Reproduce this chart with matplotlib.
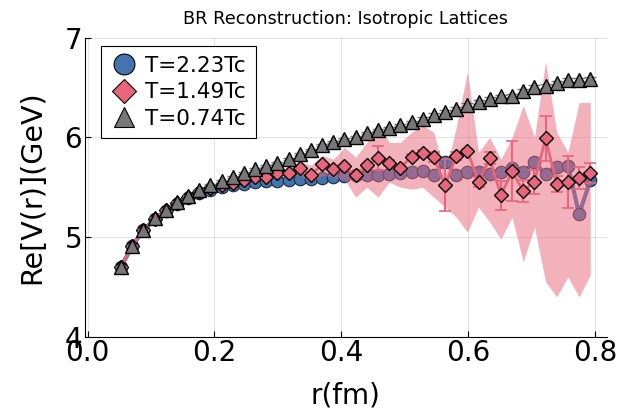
import matplotlib.pyplot as plt
import numpy as np
from matplotlib.lines import Line2D

# r values (fm), lattice points n = 3..45
r = [0.0528, 0.0704, 0.0880, 0.1056, 0.1232, 0.1408, 0.1584, 0.1760, 0.1936, 0.2112,
     0.2288, 0.2464, 0.2640, 0.2816, 0.2992, 0.3168, 0.3344, 0.3520, 0.3696, 0.3872,
     0.4048, 0.4224, 0.4400, 0.4576, 0.4752, 0.4928, 0.5104, 0.5280, 0.5456, 0.5632,
     0.5808, 0.5984, 0.6160, 0.6336, 0.6512, 0.6688, 0.6864, 0.7040, 0.7216, 0.7392,
     0.7568, 0.7744, 0.7920]

# T = 2.23 Tc
v_hot = [4.70, 4.91, 5.07, 5.18, 5.26, 5.33, 5.39, 5.44, 5.47, 5.50,
         5.52, 5.53, 5.55, 5.56, 5.56, 5.57, 5.58, 5.58, 5.59, 5.60,
         5.61, 5.62, 5.62, 5.62, 5.63, 5.64, 5.65, 5.665, 5.62, 5.755,
         5.62, 5.655, 5.655, 5.63, 5.65, 5.695, 5.65, 5.75, 5.63, 5.705,
         5.715, 5.23, 5.57]

# T = 1.49 Tc
v_mid = [4.70, 4.91, 5.07, 5.18, 5.27, 5.34, 5.40, 5.45, 5.49, 5.52,
         5.54, 5.57, 5.60, 5.605, 5.645, 5.64, 5.69, 5.62, 5.73, 5.68,
         5.71, 5.62, 5.72, 5.79, 5.745, 5.695, 5.805, 5.84, 5.80, 5.52,
         5.81, 5.865, 5.555, 5.79, 5.42, 5.66, 5.46, 5.555, 5.99, 5.53,
         5.555, 5.59, 5.64]
err_mid = [0.01, 0.01, 0.01, 0.01, 0.01, 0.01, 0.01, 0.01, 0.01, 0.01,
           0.01, 0.01, 0.01, 0.01, 0.01, 0.01, 0.01, 0.01, 0.01, 0.01,
           0.01, 0.01, 0.01, 0.12, 0.03, 0.02, 0.03, 0.03, 0.05, 0.26,
           0.04, 0.02, 0.05, 0.06, 0.145, 0.30, 0.11, 0.12, 0.225, 0.08,
           0.26, 0.11, 0.10]
band_lo = [4.69, 4.90, 5.06, 5.17, 5.26, 5.33, 5.39, 5.44, 5.48, 5.51,
           5.53, 5.56, 5.58, 5.58, 5.61, 5.60, 5.62, 5.55, 5.62, 5.60,
           5.58, 5.40, 5.50, 5.40, 5.55, 5.50, 5.48, 5.50, 5.40, 5.30,
           5.20, 5.05, 5.30, 5.15, 4.98, 5.20, 4.75, 5.10, 4.55, 4.40,
           4.60, 4.40, 4.62]
band_hi = [4.71, 4.92, 5.08, 5.19, 5.28, 5.35, 5.41, 5.46, 5.50, 5.53,
           5.55, 5.58, 5.62, 5.63, 5.68, 5.68, 5.76, 5.72, 5.82, 5.78,
           5.90, 5.80, 5.95, 6.16, 5.95, 5.95, 6.05, 6.12, 6.05, 5.62,
           6.10, 6.66, 5.85, 6.00, 5.78, 6.00, 6.32, 6.00, 6.76, 6.05,
           5.85, 6.35, 6.35]

# T = 0.74 Tc
v_cold = [4.70, 4.91, 5.07, 5.19, 5.27, 5.35, 5.41, 5.47, 5.52, 5.56,
          5.60, 5.64, 5.68, 5.71, 5.74, 5.78, 5.83, 5.87, 5.92, 5.95,
          5.98, 6.00, 6.04, 6.07, 6.09, 6.12, 6.15, 6.18, 6.22, 6.25,
          6.28, 6.32, 6.35, 6.38, 6.41, 6.42, 6.47, 6.51, 6.52, 6.55,
          6.58, 6.58, 6.585]
err_cold = [0.01, 0.01, 0.01, 0.01, 0.01, 0.01, 0.01, 0.01, 0.01, 0.01,
            0.01, 0.01, 0.01, 0.01, 0.01, 0.01, 0.01, 0.01, 0.01, 0.01,
            0.01, 0.01, 0.01, 0.01, 0.01, 0.01, 0.01, 0.02, 0.02, 0.02,
            0.02, 0.02, 0.02, 0.02, 0.02, 0.02, 0.02, 0.02, 0.02, 0.02,
            0.02, 0.02, 0.02]

labels = ["T=2.23Tc", "T=1.49Tc", "T=0.74Tc"]
c_blue = "#4473ad"
c_red = "#e8657b"
c_gray = "#777777"

fig = plt.figure(figsize=(6.23, 4.08), dpi=100)
ax = fig.add_axes([0.1364, 0.1748, 0.8376, 0.7328])

# hot
ax.plot(r, v_hot, color=c_blue, lw=3, zorder=2)
ax.plot(r, v_hot, "o", ms=9, mfc=c_blue, mec="#1a2a40", mew=0.8, zorder=2)

# mid, with band and error bars
ax.fill_between(r, band_lo, band_hi, color=c_red, alpha=0.5, lw=0, zorder=3)
ax.errorbar(r, v_mid, yerr=err_mid, fmt="none", ecolor=c_red, elinewidth=1.5,
            capsize=4, capthick=1.2, zorder=4)
ax.plot(r, v_mid, color=c_red, lw=2, zorder=4)
ax.plot(r, v_mid, "D", ms=7.5, mfc=c_red, mec="black", mew=1, zorder=5)

# cold
ax.errorbar(r, v_cold, yerr=err_cold, fmt="none", ecolor=c_gray, elinewidth=1,
            capsize=4, capthick=1, zorder=6)
ax.plot(r, v_cold, "^", ms=10, mfc=c_gray, mec="black", mew=1, zorder=7)

ax.set_xlim(-0.004, 0.818)
ax.set_ylim(4, 7)
ax.set_xticks([0.0, 0.2, 0.4, 0.6, 0.8])
ax.set_xticklabels(["0.0", "0.2", "0.4", "0.6", "0.8"])
ax.set_yticks([4, 5, 6, 7])
ax.tick_params(direction="in", length=4, labelsize=20, pad=2)
ax.grid(True, color="black", alpha=0.1, lw=0.8)
ax.set_axisbelow(True)
for s in ["top", "right"]:
    ax.spines[s].set_visible(False)
ax.set_xlabel("r(fm)", fontsize=20, labelpad=10)
ax.set_ylabel("Re[V(r)](GeV)", fontsize=20.5, labelpad=13)
ax.set_title("BR Reconstruction: Isotropic Lattices", fontsize=12.7, pad=10)

handles = [
    Line2D([], [], ls="none", marker="o", ms=15, mfc=c_blue, mec="black", mew=0.8),
    Line2D([], [], ls="none", marker="D", ms=12, mfc=c_red, mec="black", mew=0.8),
    Line2D([], [], ls="none", marker="^", ms=15, mfc=c_gray, mec="black", mew=0.8),
]
leg = ax.legend(handles, labels, loc="upper left", bbox_to_anchor=(0.031, 0.972),
                borderaxespad=0, fontsize=15.5, frameon=True, fancybox=False,
                framealpha=1, edgecolor="black", handlelength=1.2,
                handletextpad=0.4, labelspacing=0.3, borderpad=0.45)
leg.get_frame().set_linewidth(0.8)

fig.savefig("out.png", dpi=100)
